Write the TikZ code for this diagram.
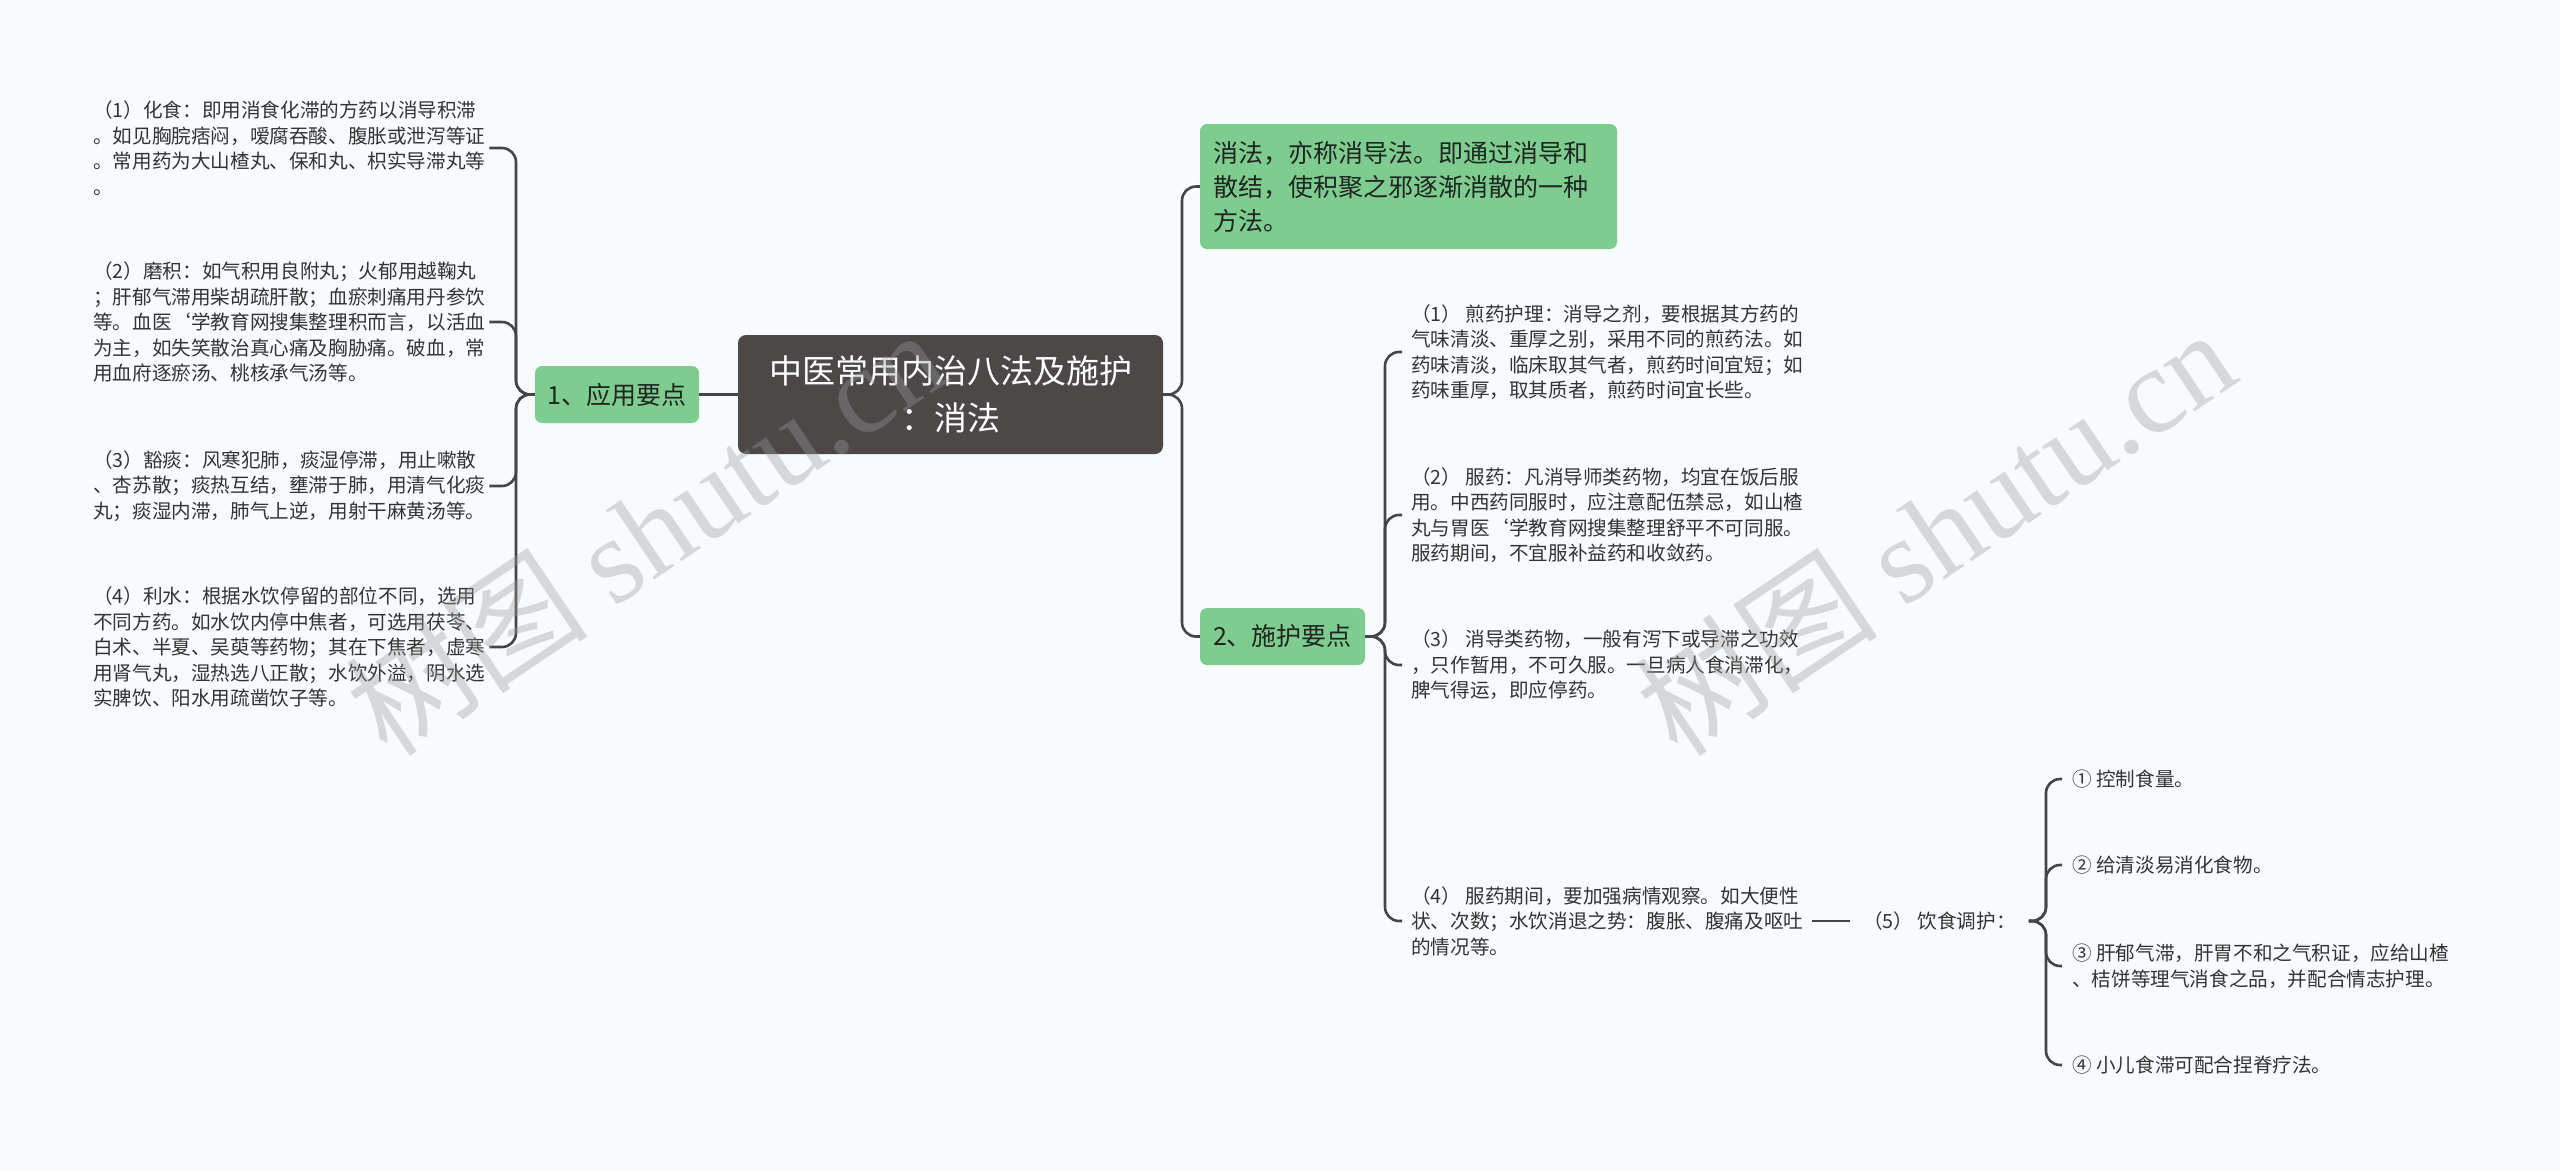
\documentclass[tikz,border=0pt]{standalone}
\usepackage{fontspec}
\setmainfont{Noto Sans CJK SC}
\newfontfamily\cjkf{Noto Sans CJK SC}
\newfontfamily\wmlat{Liberation Serif}
\usetikzlibrary{calc}
\definecolor{bgc}{HTML}{F8FBFD}
\definecolor{linec}{HTML}{454545}
\definecolor{greenc}{HTML}{7ECC8F}
\definecolor{centc}{HTML}{4C4848}
\definecolor{leaftxt}{HTML}{333333}
\definecolor{darktxt}{HTML}{1E261F}
\definecolor{wmc}{HTML}{999999}
\tikzset{
  conn/.style={draw=linec, line width=2.6pt, rounded corners=14pt},
  leaf/.style={text=leaftxt, font=\fontsize{19.6}{25.5}\selectfont, align=left, inner xsep=4pt, inner ysep=4pt},
  rleaf/.style={leaf, inner xsep=9pt},
  greenbox/.style={fill=greenc, rounded corners=7pt, text=darktxt, font=\fontsize{25}{34}\selectfont, inner sep=0pt},
  centbox/.style={fill=centc, rounded corners=8pt, text=white, font=\fontsize{33}{47}\selectfont, align=center, inner sep=0pt},
  wm/.style={text=wmc, opacity=0.36, font=\fontsize{122}{130}\selectfont, inner sep=0pt}
}
\begin{document}
\begin{tikzpicture}[x=1pt,y=-1pt]
\fill[bgc] (0,0) rectangle (2560,1171);
\useasboundingbox (0,0) rectangle (2560,1171);

% central
\node[centbox, minimum width=425pt, minimum height=119pt] (c) at (950.5,394.5) {中医常用内治八法及施护\\：消法};

% first level
\node[greenbox, minimum width=164pt, minimum height=57pt] (n1) at (617,394.5) {1、应用要点};
\node[greenbox, minimum width=417pt, minimum height=125pt, text width=391pt, align=left] (d1) at (1408.5,186.5) {消法，亦称消导法。即通过消导和\\散结，使积聚之邪逐渐消散的一种\\方法。};
\node[greenbox, minimum width=165pt, minimum height=57pt] (n2) at (1282.5,636.5) {2、施护要点};

% left leaves
\node[leaf, anchor=west] (la) at (89,148) {（1）化食：即用消食化滞的方药以消导积滞\\。如见胸脘痞闷，嗳腐吞酸、腹胀或泄泻等证\\。常用药为大山楂丸、保和丸、枳实导滞丸等\\。};
\node[leaf, anchor=west] (lb) at (89,322) {（2）磨积：如气积用良附丸；火郁用越鞠丸\\；肝郁气滞用柴胡疏肝散；血瘀刺痛用丹参饮\\等。血医\symbol{96}学教育网搜集整理积而言，以活血\\为主，如失笑散治真心痛及胸胁痛。破血，常\\用血府逐瘀汤、桃核承气汤等。};
\node[leaf, anchor=west] (lc) at (89,486) {（3）豁痰：风寒犯肺，痰湿停滞，用止嗽散\\、杏苏散；痰热互结，壅滞于肺，用清气化痰\\丸；痰湿内滞，肺气上逆，用射干麻黄汤等。};
\node[leaf, anchor=west] (ld) at (89,647) {（4）利水：根据水饮停留的部位不同，选用\\不同方药。如水饮内停中焦者，可选用茯苓、\\白术、半夏、吴萸等药物；其在下焦者，虚寒\\用肾气丸，湿热选八正散；水饮外溢，阴水选\\实脾饮、阳水用疏凿饮子等。};

% right leaves
\node[rleaf, anchor=west] (ra) at (1402,352) {（1） 煎药护理：消导之剂，要根据其方药的\\气味清淡、重厚之别，采用不同的煎药法。如\\药味清淡，临床取其气者，煎药时间宜短；如\\药味重厚，取其质者，煎药时间宜长些。};
\node[rleaf, anchor=west] (rb) at (1402,515) {（2） 服药：凡消导师类药物，均宜在饭后服\\用。中西药同服时，应注意配伍禁忌，如山楂\\丸与胃医\symbol{96}学教育网搜集整理舒平不可同服。\\服药期间，不宜服补益药和收敛药。};
\node[rleaf, anchor=west] (rc) at (1402,665) {（3） 消导类药物，一般有泻下或导滞之功效\\，只作暂用，不可久服。一旦病人食消滞化，\\脾气得运，即应停药。};
\node[rleaf, anchor=west] (rd) at (1402,921) {（4） 服药期间，要加强病情观察。如大便性\\状、次数；水饮消退之势：腹胀、腹痛及呕吐\\的情况等。};
\node[leaf, anchor=west, inner xsep=13pt] (n5) at (1850,921) {（5） 饮食调护：};

% items
\node[leaf, anchor=west, inner xsep=10pt] (i1) at (2062,779) {① 控制食量。};
\node[leaf, anchor=west, inner xsep=10pt] (i2) at (2062,865) {② 给清淡易消化食物。};
\node[leaf, anchor=west, inner xsep=10pt] (i3) at (2062,966) {③ 肝郁气滞，肝胃不和之气积证，应给山楂\\、桔饼等理气消食之品，并配合情志护理。};
\node[leaf, anchor=west, inner xsep=10pt] (i4) at (2062,1065) {④ 小儿食滞可配合捏脊疗法。};

% bracket coordinates
\coordinate (bl) at (516,0);
\coordinate (bc) at (1182,0);
\coordinate (br) at (1385,0);
\coordinate (bi) at (2046,0);

% connectors
\draw[conn] (c.west) -- (n1.east);
\foreach \t in {la,lb,lc,ld} \draw[conn] (n1.west) -- (n1.west -| bl) |- (\t.east);
\foreach \t in {d1,n2} \draw[conn] (c.east) -- (c.east -| bc) |- (\t.west);
\foreach \t in {ra,rb,rc,rd} \draw[conn] (n2.east) -- (n2.east -| br) |- (\t.west);
\draw[conn] (rd.east) -- (n5.west);
\foreach \t in {i1,i2,i3,i4} \draw[conn] (n5.east) -- (n5.east -| bi) |- (\t.west);

% watermarks
\node[wm, rotate=34] (wm1) at (645,531) {\cjkf 树图 \wmlat shutu.cn};
\node[wm, rotate=34] (wm2) at (1935,531) {\cjkf 树图 \wmlat shutu.cn};
\end{tikzpicture}
\end{document}
